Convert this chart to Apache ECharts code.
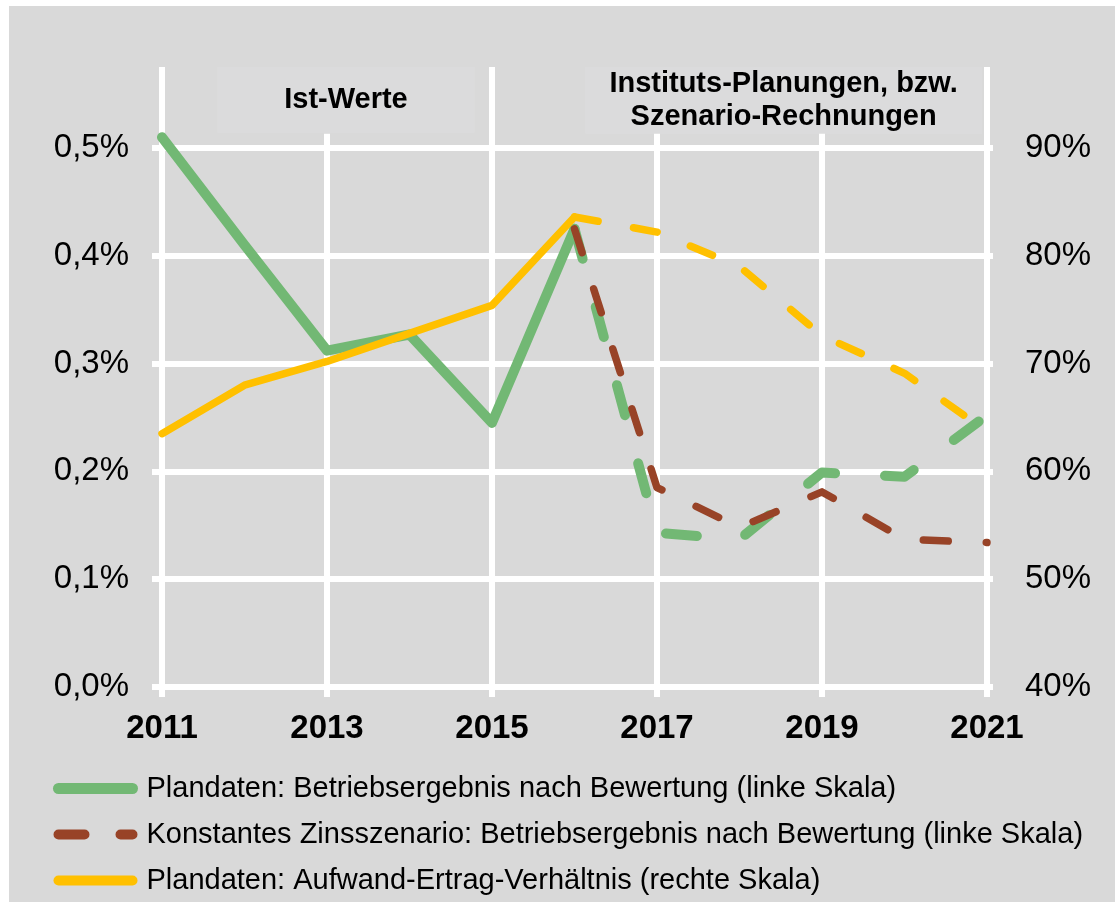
<!DOCTYPE html>
<html>
<head>
<meta charset="utf-8">
<title>Betriebsergebnis und Aufwand-Ertrag-Verhältnis</title>
<script src="https://cdn.jsdelivr.net/npm/echarts@6/dist/echarts.min.js"></script>
<style>
  html, body { margin: 0; padding: 0; background: #fff; }
  #rahmen { position: absolute; left: 9px; top: 6px; width: 1106px; height: 896px; background: #d9d9d9; }
  #chart { position: absolute; left: 0; top: 0; width: 1115px; height: 916px; }
</style>
</head>
<body>
<div id="rahmen"></div>
<div id="chart"></div>
<script>
var jahre = ['2011', '2012', '2013', '2014', '2015', '2016', '2017', '2018', '2019', '2020', '2021'];
var jahreIst = ['2011', '2012', '2013', '2014', '2015', '2016'];
var jahrePlan = ['2016', '2017', '2018', '2019', '2020', '2021'];

// Betriebsergebnis nach Bewertung in % (linke Skala)
var betriebIst = [0.51, 0.41, 0.312, 0.327, 0.245, 0.425];
var betriebPlan = [0.425, 0.143, 0.137, 0.199, 0.195, 0.252];
var zinsKonstant = [0.425, 0.185, 0.148, 0.181, 0.137, 0.134];

// Aufwand-Ertrag-Verhältnis in % (rechte Skala)
var aerIst = [63.5, 68.0, 70.2, 72.8, 75.4, 83.6];
var aerPlan = [83.6, 82.2, 79.0, 72.6, 69.1, 63.7];

var namen = [
  'Plandaten: Betriebsergebnis nach Bewertung (linke Skala)',
  'Konstantes Zinsszenario: Betriebsergebnis nach Bewertung (linke Skala)',
  'Plandaten: Aufwand-Ertrag-Verhältnis (rechte Skala)'
];
var abschnitte = ['Ist-Werte', 'Instituts-Planungen, bzw.\nSzenario-Rechnungen'];

// senkrechte Linien: Trennlinien hoch, Rasterlinien kurz
var trennJahre = [2011, 2015, 2021];
var rasterJahre = [2013, 2017, 2019];

var schrift = "'Liberation Sans', Arial, sans-serif";
var gruen = '#72b874', braun = '#984327', gelb = '#ffc000';

function paare(x, y) {
  return x.map(function (j, i) { return [j, y[i]]; });
}

var senkrecht = [];
trennJahre.forEach(function (j) { senkrecht.push([{ coord: [j, 0] }, { coord: [j, 0.576] }]); });
rasterJahre.forEach(function (j) { senkrecht.push([{ coord: [j, 0] }, { coord: [j, 0.514] }]); });

var option = {
  animation: false,
  legend: {
    orient: 'vertical',
    left: 48,
    top: 769,
    itemWidth: 74,
    itemHeight: 12,
    itemGap: 17,
    selectedMode: false,
    textStyle: { fontFamily: schrift, fontSize: 29, color: '#000', padding: [0, 0, 0, 9] },
    data: [
      { name: namen[0], itemStyle: { opacity: 0 }, lineStyle: { width: 11 } },
      { name: namen[1], itemStyle: { opacity: 0 }, lineStyle: { width: 10, type: [26, 36] } },
      { name: namen[2], itemStyle: { opacity: 0 }, lineStyle: { width: 10 } }
    ]
  },
  grid: [
    { left: 162, right: 128, top: 148, bottom: 229 },
    { left: 162, right: 128, top: 67, bottom: 229 }
  ],
  xAxis: [{
    gridIndex: 0,
    type: 'category',
    data: jahre,
    boundaryGap: false,
    axisLine: { show: false },
    axisTick: { show: true, interval: 1, length: 10, lineStyle: { color: '#fff', width: 6 } },
    axisLabel: { interval: 1, margin: 25, fontFamily: schrift, fontSize: 33, fontWeight: 'bold', color: '#000' },
    splitLine: { show: false }
  }, {
    gridIndex: 1,
    type: 'value',
    min: 2011,
    max: 2021,
    show: false
  }],
  yAxis: [{
    gridIndex: 0,
    type: 'value',
    min: 0,
    max: 0.5,
    interval: 0.1,
    axisLine: { show: false },
    axisTick: { show: true, length: 10, lineStyle: { color: '#fff', width: 6 } },
    axisLabel: {
      margin: 33, fontFamily: schrift, fontSize: 33, color: '#000',
      formatter: function (v) { return v.toFixed(1).replace('.', ',') + '%'; }
    },
    splitLine: { show: true, lineStyle: { color: '#fff', width: 6 } }
  }, {
    gridIndex: 0,
    type: 'value',
    position: 'right',
    min: 40,
    max: 90,
    interval: 10,
    axisLine: { show: false },
    axisTick: { show: true, length: 6, lineStyle: { color: '#fff', width: 6 } },
    axisLabel: {
      margin: 38, fontFamily: schrift, fontSize: 33, color: '#000',
      formatter: function (v) { return v + '%'; }
    },
    splitLine: { show: false }
  }, {
    gridIndex: 1,
    type: 'value',
    min: 0,
    max: 0.576,
    show: false
  }],
  series: [{
    type: 'line',
    xAxisIndex: 1,
    yAxisIndex: 2,
    data: [],
    silent: true,
    z: 1,
    markLine: {
      silent: true,
      z: 1,
      symbol: ['none', 'none'],
      label: { show: false },
      lineStyle: { color: '#fff', width: 6, type: 'solid' },
      data: senkrecht
    },
    markArea: {
      silent: true,
      z: 1,
      itemStyle: { color: '#dbdbdc' },
      label: {
        show: true, position: 'inside', fontFamily: schrift, fontSize: 29,
        fontWeight: 'bold', color: '#000', lineHeight: 33, align: 'center'
      },
      data: [
        [{ name: abschnitte[0], coord: [2011.67, 0.515] }, { coord: [2014.79, 0.576] }],
        [{ name: abschnitte[1], coord: [2016.13, 0.514] }, { coord: [2020.94, 0.576] }]
      ]
    }
  }, {
    name: namen[0],
    type: 'line',
    data: paare(jahreIst, betriebIst),
    symbol: 'none',
    clip: false,
    lineStyle: { color: gruen, width: 10, join: 'round', cap: 'round' },
    itemStyle: { color: gruen }
  }, {
    name: namen[0],
    type: 'line',
    data: paare(jahrePlan, betriebPlan),
    symbol: 'none',
    lineStyle: { color: gruen, width: 10, type: [31, 50], join: 'round', cap: 'round' },
    itemStyle: { color: gruen }
  }, {
    name: namen[1],
    type: 'line',
    data: paare(jahrePlan, zinsKonstant),
    symbol: 'none',
    lineStyle: { color: braun, width: 7.5, type: [25, 38], join: 'round', cap: 'round' },
    itemStyle: { color: braun }
  }, {
    name: namen[2],
    type: 'line',
    yAxisIndex: 1,
    data: paare(jahreIst, aerIst),
    symbol: 'none',
    lineStyle: { color: gelb, width: 7.5, join: 'round', cap: 'round' },
    itemStyle: { color: gelb }
  }, {
    name: namen[2],
    type: 'line',
    yAxisIndex: 1,
    data: paare(jahrePlan, aerPlan),
    symbol: 'none',
    lineStyle: { color: gelb, width: 7.5, type: [24, 36], join: 'round', cap: 'round' },
    itemStyle: { color: gelb }
  }]
};

var myChart = echarts.init(document.getElementById('chart'));
myChart.setOption(option);
</script>
</body>
</html>
